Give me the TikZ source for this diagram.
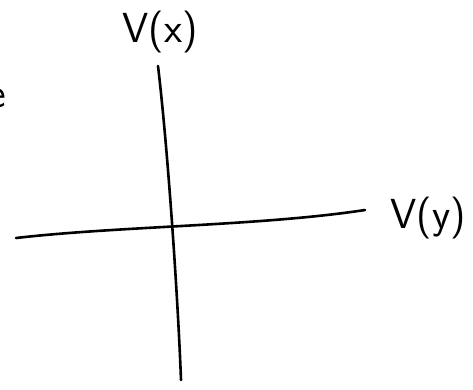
\documentclass[tikz,border=0pt]{standalone}
\usepackage{tikz}
\usetikzlibrary{positioning, calc}

\begin{document}
\begin{tikzpicture}[
        x=1pt, y=-1pt,
        axis/.style={
            line width=2.6pt,
            line cap=round,
            black
        },
        label/.style={
            inner sep=0pt,
            font=\sffamily\fontsize{42}{46}\selectfont
        }
    ]
        \useasboundingbox (0,0) rectangle (473,389);
        \clip (0,0) rectangle (473,389);
        % axes ends
        \coordinate (top) at (158,66);
        \coordinate (bottom) at (181,380);
        \coordinate (left) at (16,238);
        \coordinate (right) at (365,210);
        \node [label] (vx) at (160,32) {V(x)};
        \node [label] (vy) at (428,218) {V(y)};
        \node [label] (cut) at (-3,98) {e};

        \draw [axis] (top) .. controls (168,150) and (178,300) .. (bottom);
        \draw [axis] (left) .. controls (120,226) and (260,226) .. (right);
    \end{tikzpicture}
\end{document}
